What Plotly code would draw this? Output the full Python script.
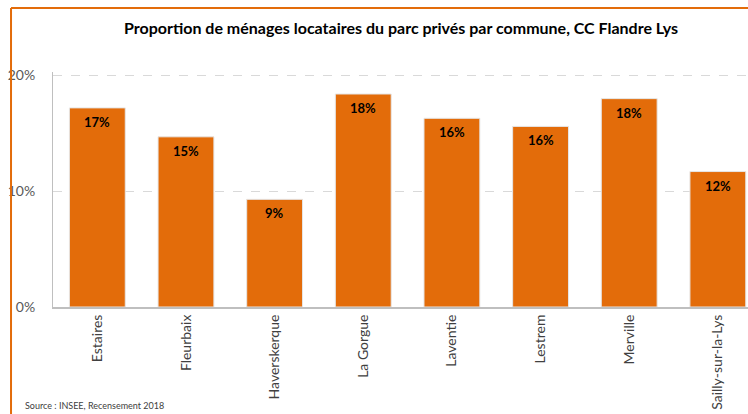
import plotly.graph_objects as go

communes = ["Estaires", "Fleurbaix", "Haverskerque", "La Gorgue", "Laventie",
            "Lestrem", "Merville", "Sailly-sur-la-Lys"]
part_locataires = [17.2, 14.7, 9.3, 18.4, 16.3, 15.6, 18.0, 11.7]  # en %
y_ticks = [0, 10, 20]
y_tick_labels = ["0%", "10%", "20%"]

ORANGE = "#E36C0A"
FONT = "Lato"

fig = go.Figure()
fig.add_trace(go.Bar(
    x=communes,
    y=part_locataires,
    marker=dict(color=ORANGE, line=dict(color="#E6E6E6", width=1)),
    width=0.63,
    hoverinfo="x+y",
))

# valeurs affichées en haut de chaque barre
for c, v in zip(communes, part_locataires):
    fig.add_annotation(
        x=c, y=v, text=f"<b>{round(v)}%</b>", showarrow=False,
        yanchor="middle", yshift=-14,
        font=dict(family=FONT, size=13, color="#000000"),
    )

# titre
fig.add_annotation(
    xref="paper", yref="paper", x=0.52, y=1, yshift=45, xshift=-13,
    text="<b>Proportion de ménages locataires du parc privés par commune, CC Flandre Lys</b>",
    showarrow=False, xanchor="center", yanchor="middle",
    font=dict(family=FONT, size=16, color="#000000"),
)

# source
fig.add_annotation(
    xref="paper", yref="paper", x=-0.043, y=0, yshift=-98,
    text="Source : INSEE, Recensement 2018", showarrow=False,
    xanchor="left", yanchor="middle",
    font=dict(family=FONT, size=9, color="#404040"),
)

# cadre orange (haut et gauche)
fig.add_shape(type="line", xref="paper", yref="paper",
              x0=-0.0604, x1=1.1, y0=1.2723, y1=1.2723,
              line=dict(color=ORANGE, width=2))
fig.add_shape(type="line", xref="paper", yref="paper",
              x0=-0.0604, x1=-0.0604, y0=1.2723, y1=-0.5,
              line=dict(color=ORANGE, width=2))

fig.update_layout(
    width=748, height=414,
    margin=dict(l=53, r=0, t=72, b=107),
    paper_bgcolor="white", plot_bgcolor="white",
    showlegend=False,
    bargap=0.37,
    xaxis=dict(
        range=[-0.5, 7.34],
        tickangle=-90,
        tickfont=dict(family=FONT, size=14, color="#404040"),
        showline=True, linecolor="#BFBFBF", linewidth=2,
        ticks="", showgrid=False,
    ),
    yaxis=dict(
        range=[0, 20.3],
        tickvals=y_ticks, ticktext=y_tick_labels,
        tickfont=dict(family=FONT, size=14, color="#595959"),
        showline=True, linecolor="#BFBFBF", linewidth=1,
        showgrid=True, gridcolor="#D9D9D9", griddash="dash", gridwidth=1,
        zeroline=False, ticks="", ticklabelstandoff=14,
    ),
)

fig.write_html("out.html")
